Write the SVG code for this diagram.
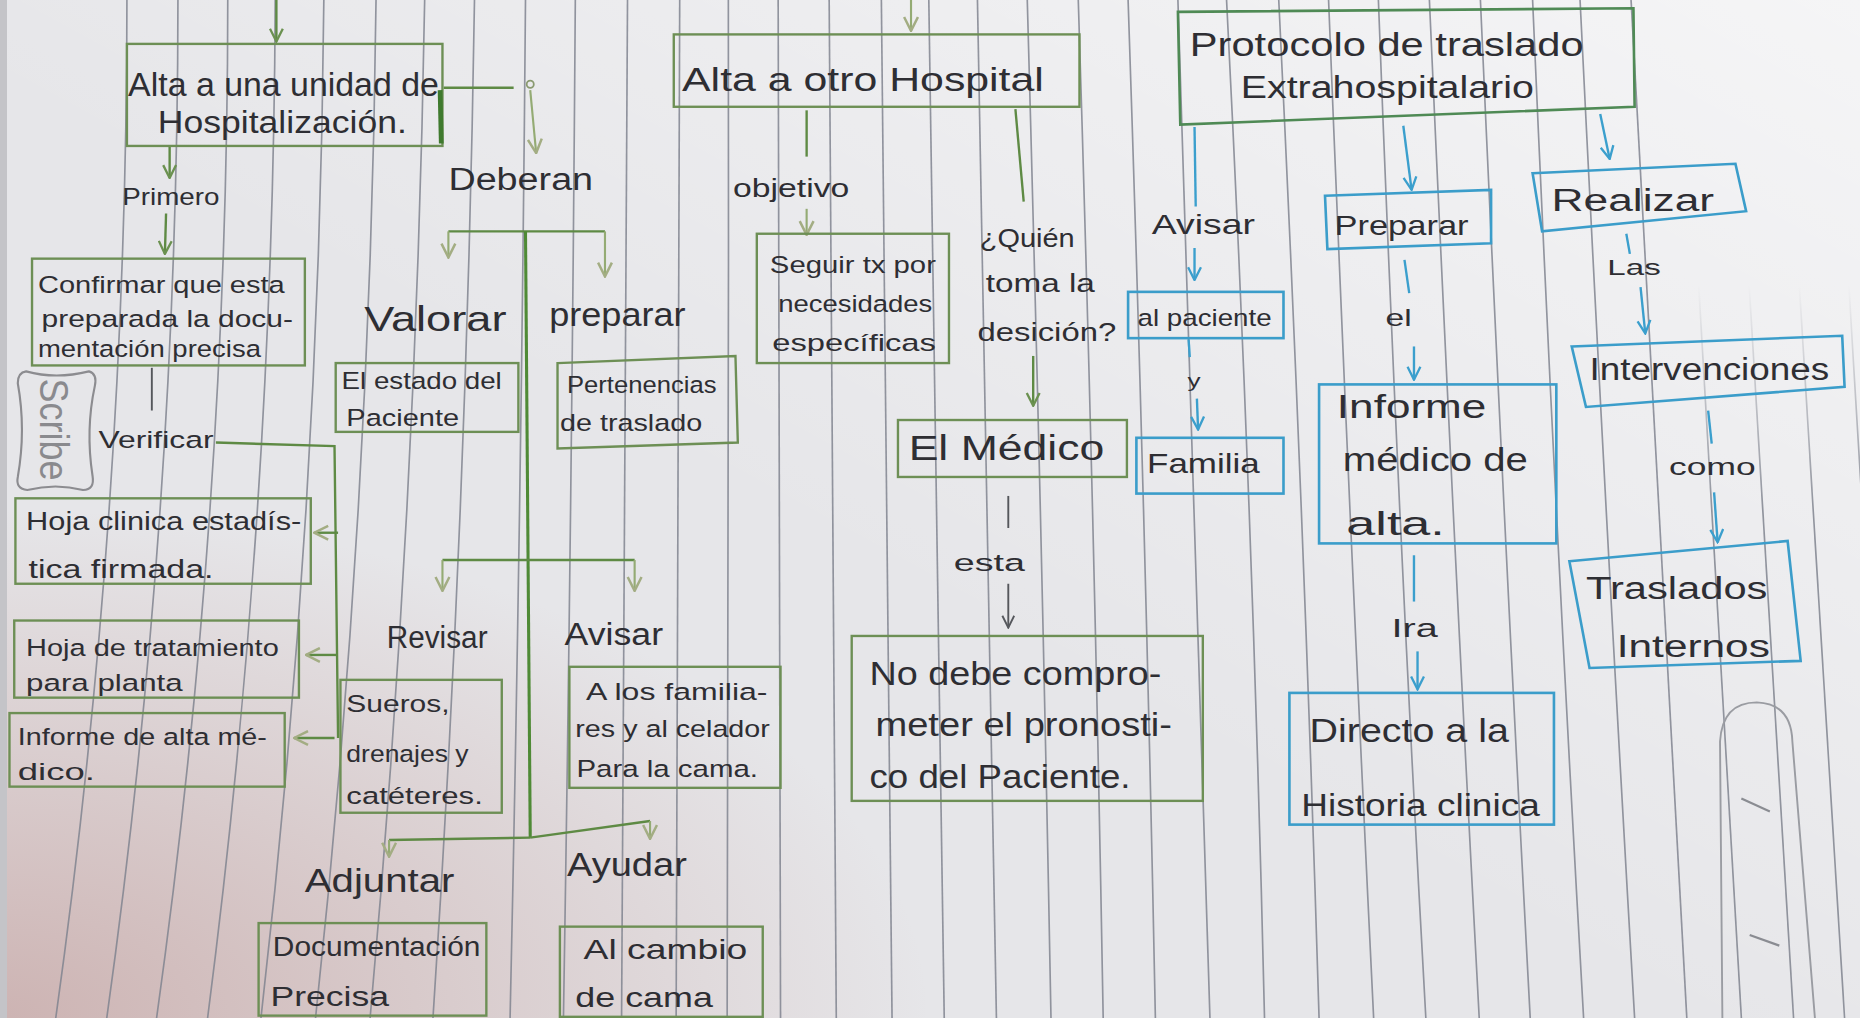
<svg xmlns="http://www.w3.org/2000/svg" width="1860" height="1018" viewBox="0 0 1860 1018">
<defs>
<style>
text{font-family:"Liberation Sans","DejaVu Sans",Arial,sans-serif;fill:#2e2e33}
.rl{fill:none;stroke:#80848f;stroke-width:1.4;opacity:.85}
.rf{fill:none;stroke:url(#fade);stroke-width:1.4}
.bg{fill:none;stroke:#6d8f55;stroke-width:2}
.bb{fill:none;stroke:#3b9dca;stroke-width:2.2}
.cg{fill:none;stroke:#5e8a44;stroke-width:2}
.cl{fill:none;stroke:#94ab74;stroke-width:1.8}
.cb{fill:none;stroke:#3b9fcd;stroke-width:2}
.ck{fill:none;stroke:#55575c;stroke-width:1.6}
</style>
<marker id="mg" viewBox="0 0 12 12" refX="11" refY="6" markerWidth="13" markerHeight="13" markerUnits="userSpaceOnUse" orient="auto"><path d="M1,1 L11,6 L1,11" fill="none" stroke="#6b9150" stroke-width="1.8"/></marker>
<marker id="ml" viewBox="0 0 12 12" refX="11" refY="6" markerWidth="14" markerHeight="14" markerUnits="userSpaceOnUse" orient="auto"><path d="M1,1 L11,6 L1,11" fill="none" stroke="#a3ad83" stroke-width="1.8"/></marker>
<marker id="mb" viewBox="0 0 12 12" refX="11" refY="6" markerWidth="13" markerHeight="13" markerUnits="userSpaceOnUse" orient="auto"><path d="M1,1 L11,6 L1,11" fill="none" stroke="#3b9fcd" stroke-width="1.8"/></marker>
<marker id="mk" viewBox="0 0 12 12" refX="11" refY="6" markerWidth="12" markerHeight="12" markerUnits="userSpaceOnUse" orient="auto"><path d="M1,1 L11,6 L1,11" fill="none" stroke="#55575c" stroke-width="1.6"/></marker>
<linearGradient id="lt" x1="1" y1="0" x2="0" y2="1"><stop offset="0" stop-color="#ffffff" stop-opacity=".6"/><stop offset=".55" stop-color="#ffffff" stop-opacity="0"/></linearGradient>
<radialGradient id="pk" cx="0" cy="1" r=".5"><stop offset="0" stop-color="#b88a86" stop-opacity=".55"/><stop offset="1" stop-color="#b88a86" stop-opacity="0"/></radialGradient>
<linearGradient id="fade" gradientUnits="userSpaceOnUse" x1="0" y1="0" x2="0" y2="858"><stop offset="0" stop-color="#80848f" stop-opacity="0"/><stop offset=".28" stop-color="#80848f" stop-opacity="0"/><stop offset=".5" stop-color="#80848f" stop-opacity=".85"/></linearGradient>
</defs>
<rect width="1860" height="1018" fill="#e6e6e9"/>
<rect width="1860" height="1018" fill="url(#lt)"/>
<rect width="1860" height="1018" fill="url(#pk)"/>
<rect x="0" y="0" width="7" height="1018" fill="#c4c4c8"/>
<g transform="scale(1.18622,1.18648)">
<g id="paper">
<path class="rl" d="M107 0 Q107 429 47 858"/>
<path class="rl" d="M150 0 Q150 429 90 858"/>
<path class="rl" d="M192 0 Q192 429 132 858"/>
<path class="rl" d="M232 0 Q230.5 429 175 858"/>
<path class="rl" d="M273 0 Q269.5 429 220 858"/>
<path class="rl" d="M317 0 Q312.5 429 266 858"/>
<path class="rl" d="M358 0 Q351 429 312 858"/>
<path class="rl" d="M400 0 Q393.5 429 365 858"/>
<path class="rl" d="M443 0 Q439.5 429 430 858"/>
<path class="rl" d="M485 0 Q482 429 475 858"/>
<path class="rl" d="M529 0 Q527.5 429 524 858"/>
<path class="rl" d="M573 0 Q572.5 429 570 858"/>
<path class="rl" d="M614 0 Q614.5 429 613 858"/>
<path class="rl" d="M656 0 Q657 429 658 858"/>
<path class="rl" d="M699 0 Q702 429 705 858"/>
<path class="rl" d="M743 0 Q746.5 429 752 858"/>
<path class="rl" d="M783 0 Q788.5 429 796 858"/>
<path class="rl" d="M824 0 Q832 429 840 858"/>
<path class="rl" d="M866 0 Q878 429 886 858"/>
<path class="rl" d="M909 0 Q922.5 429 930 858"/>
<path class="rl" d="M951 0 Q965.5 429 974 858"/>
<path class="rl" d="M993 0 Q1007.5 429 1020 858"/>
<path class="rl" d="M1034 0 Q1056 429 1066 858"/>
<path class="rl" d="M1078 0 Q1099 429 1112 858"/>
<path class="rl" d="M1120 0 Q1137 429 1158 858"/>
<path class="rl" d="M1162 0 Q1178 429 1202 858"/>
<path class="rl" d="M1205 0 Q1224 429 1247 858"/>
<path class="rl" d="M1248 0 Q1267 429 1290 858"/>
<path class="rl" d="M1292 0 Q1310.5 429 1335 858"/>
<path class="rl" d="M1332 0 Q1353 429 1378 858"/>
<path class="rl" d="M1375 0 Q1397.5 429 1422 858"/>
<path class="rf" d="M1418 0 Q1443 429 1468 858"/>
<path class="rf" d="M1460 0 Q1486 429 1512 858"/>
<path class="rf" d="M1502 0 Q1527.5 429 1555 858"/>
<path class="rf" d="M1545 0 Q1568.5 429 1598 858"/>
</g>

<g id="connectors">
<path class="cg" d="M233,0 L233,35" marker-end="url(#mg)"/>
<path class="cg" d="M374,74 L433,74"/>
<circle cx="447" cy="71" r="3" fill="none" stroke="#8a9a70" stroke-width="1.5"/>
<path class="cl" d="M447,76 L452,129" marker-end="url(#ml)"/>
<text x="378" y="160" font-size="26" textLength="122" lengthAdjust="spacingAndGlyphs">Deberan</text>
<path class="cg" d="M143,123 L143,150" marker-end="url(#mg)"/>
<text x="103" y="173" font-size="20" textLength="82" lengthAdjust="spacingAndGlyphs">Primero</text>
<path class="cg" d="M140,180 L139,214" marker-end="url(#mg)"/>
<path class="ck" d="M128,310 L128,346"/>
<text x="83" y="378" font-size="20" textLength="97" lengthAdjust="spacingAndGlyphs">Verificar</text>
<path class="cg" d="M182,373 L282,376 L285,622"/>
<path class="cg" d="M285,449 L265,449" marker-end="url(#ml)"/>
<path class="cg" d="M284,552 L258,552" marker-end="url(#ml)"/>
<path class="cg" d="M282,622 L248,622" marker-end="url(#ml)"/>
<path class="cg" d="M378,195 L510,195"/>
<path class="cl" d="M378,195 L378,217" marker-end="url(#ml)"/>
<path class="cl" d="M510,195 L510,233" marker-end="url(#ml)"/>
<path d="M443,195 L447,706" fill="none" stroke="#4f8a36" stroke-width="2.6"/>
<path class="cg" d="M373,472 L535,472"/>
<path class="cl" d="M373,472 L373,498" marker-end="url(#ml)"/>
<path class="cl" d="M535,472 L535,498" marker-end="url(#ml)"/>
<path class="cg" d="M447,706 L328,708"/>
<path class="cl" d="M328,708 L328,722" marker-end="url(#ml)"/>
<path class="cg" d="M447,706 L548,692"/>
<path class="cl" d="M548,692 L548,707" marker-end="url(#ml)"/>
<path class="cl" d="M768,0 L768,26" marker-end="url(#ml)"/>
<path class="cg" d="M680,93 L680,132"/>
<text x="618" y="166" font-size="22" textLength="98" lengthAdjust="spacingAndGlyphs">objetivo</text>
<path class="cl" d="M680,176 L680,198" marker-end="url(#ml)"/>
<path class="cg" d="M856,92 L863,170"/>
<path class="cg" d="M871,300 L871,342" marker-end="url(#mg)"/>
<path class="ck" d="M850,418 L850,445"/>
<text x="804" y="481" font-size="20" textLength="60" lengthAdjust="spacingAndGlyphs">esta</text>
<path class="ck" d="M850,492 L850,529" marker-end="url(#mk)"/>
<path class="cb" d="M1007,107 L1008,174"/>
<path class="cb" d="M1007,209 L1007,236" marker-end="url(#mb)"/>
<path class="cb" d="M1002,286 L1003,301"/>
<text x="1001" y="326" font-size="16" textLength="11" lengthAdjust="spacingAndGlyphs">y</text>
<path class="cb" d="M1009,336 L1010,362" marker-end="url(#mb)"/>
<path class="cb" d="M1183,106 L1190,160" marker-end="url(#mb)"/>
<path class="cb" d="M1184,219 L1188,247"/>
<text x="1168" y="275" font-size="20" textLength="22" lengthAdjust="spacingAndGlyphs">el</text>
<path class="cb" d="M1192,292 L1192,320" marker-end="url(#mb)"/>
<path class="cb" d="M1192,468 L1192,507"/>
<text x="1173" y="537" font-size="22" textLength="39" lengthAdjust="spacingAndGlyphs">Ira</text>
<path class="cb" d="M1195,549 L1195,581" marker-end="url(#mb)"/>
<path class="cb" d="M1349,96 L1357,134" marker-end="url(#mb)"/>
<path class="cb" d="M1371,197 L1374,214"/>
<text x="1355" y="232" font-size="18" textLength="45" lengthAdjust="spacingAndGlyphs">Las</text>
<path class="cb" d="M1383,242 L1387,281" marker-end="url(#mb)"/>
<path class="cb" d="M1440,346 L1443,374"/>
<text x="1407" y="400" font-size="20" textLength="73" lengthAdjust="spacingAndGlyphs">como</text>
<path class="cb" d="M1445,415 L1448,457" marker-end="url(#mb)"/>
</g>

<g id="n-alta-unidad">
<rect class="bg" x="107" y="37" width="266" height="86"/>
<path d="M371,76 L372,121" stroke="#3f7a2e" stroke-width="4"/>
<text x="108" y="81" font-size="28" textLength="262" lengthAdjust="spacingAndGlyphs">Alta a una unidad de</text>
<text x="133" y="112" font-size="26" textLength="210" lengthAdjust="spacingAndGlyphs">Hospitalización.</text>
</g>
<g id="n-confirmar">
<rect class="bg" x="27" y="218" width="230" height="90"/>
<text x="32" y="247" font-size="20" textLength="208" lengthAdjust="spacingAndGlyphs">Confirmar que esta</text>
<text x="35" y="276" font-size="20" textLength="212" lengthAdjust="spacingAndGlyphs">preparada la docu-</text>
<text x="32" y="301" font-size="20" textLength="188" lengthAdjust="spacingAndGlyphs">mentación precisa</text>
</g>
<g id="n-scribe">
<path d="M22,313 Q47,320 75,313 Q82,315 80,325 Q72,362 78,401 Q80,413 70,413 Q47,407 23,413 Q13,412 15,402 Q22,362 15,323 Q15,314 22,313 Z" fill="none" stroke="#8c8c90" stroke-width="1.8"/>
<text transform="translate(34,362) rotate(90)" text-anchor="middle" font-size="34" textLength="86" lengthAdjust="spacingAndGlyphs" style="fill:#8a8a8e">Scribe</text>
</g>
<g id="n-hoja-clinica">
<rect class="bg" x="13" y="420" width="249" height="72"/>
<text x="22" y="447" font-size="22" textLength="232" lengthAdjust="spacingAndGlyphs">Hoja clinica estadís-</text>
<text x="24" y="487" font-size="22" textLength="156" lengthAdjust="spacingAndGlyphs">tica firmada.</text>
</g>
<g id="n-hoja-tratamiento">
<rect class="bg" x="12" y="523" width="240" height="65"/>
<text x="22" y="553" font-size="20" textLength="213" lengthAdjust="spacingAndGlyphs">Hoja de tratamiento</text>
<text x="22" y="582" font-size="20" textLength="132" lengthAdjust="spacingAndGlyphs">para planta</text>
</g>
<g id="n-informe-alta-medico">
<rect class="bg" x="8" y="601" width="232" height="62"/>
<text x="15" y="628" font-size="20" textLength="210" lengthAdjust="spacingAndGlyphs">Informe de alta mé-</text>
<text x="15" y="657" font-size="20" textLength="65" lengthAdjust="spacingAndGlyphs">dico.</text>
</g>
<g id="n-valorar">
<text x="307" y="279" font-size="30" textLength="120" lengthAdjust="spacingAndGlyphs">Valorar</text>
</g>
<g id="n-preparar-mid">
<text x="463" y="275" font-size="28" textLength="115" lengthAdjust="spacingAndGlyphs">preparar</text>
</g>
<g id="n-estado">
<rect class="bg" x="283" y="306" width="154" height="58"/>
<text x="288" y="328" font-size="20" textLength="135" lengthAdjust="spacingAndGlyphs">El estado del</text>
<text x="292" y="359" font-size="20" textLength="95" lengthAdjust="spacingAndGlyphs">Paciente</text>
</g>
<g id="n-pertenencias">
<polygon class="bg" points="470,306 620,300 622,373 470,378"/>
<text x="478" y="331" font-size="20" textLength="126" lengthAdjust="spacingAndGlyphs">Pertenencias</text>
<text x="472" y="363" font-size="20" textLength="120" lengthAdjust="spacingAndGlyphs">de traslado</text>
</g>
<g id="n-revisar">
<text x="326" y="546" font-size="26" textLength="85" lengthAdjust="spacingAndGlyphs">Revisar</text>
</g>
<g id="n-avisar-mid">
<text x="476" y="544" font-size="26" textLength="83" lengthAdjust="spacingAndGlyphs">Avisar</text>
</g>
<g id="n-sueros">
<rect class="bg" x="287" y="573" width="136" height="112"/>
<text x="292" y="600" font-size="20" textLength="87" lengthAdjust="spacingAndGlyphs">Sueros,</text>
<text x="292" y="642" font-size="20" textLength="103" lengthAdjust="spacingAndGlyphs">drenajes y</text>
<text x="292" y="678" font-size="20" textLength="115" lengthAdjust="spacingAndGlyphs">catéteres.</text>
</g>
<g id="n-familiares">
<rect class="bg" x="480" y="562" width="178" height="102"/>
<text x="494" y="590" font-size="20" textLength="153" lengthAdjust="spacingAndGlyphs">A los familia-</text>
<text x="485" y="621" font-size="20" textLength="164" lengthAdjust="spacingAndGlyphs">res y al celador</text>
<text x="486" y="655" font-size="20" textLength="153" lengthAdjust="spacingAndGlyphs">Para la cama.</text>
</g>
<g id="n-adjuntar">
<text x="257" y="752" font-size="28" textLength="126" lengthAdjust="spacingAndGlyphs">Adjuntar</text>
</g>
<g id="n-ayudar">
<text x="478" y="738" font-size="28" textLength="101" lengthAdjust="spacingAndGlyphs">Ayudar</text>
</g>
<g id="n-documentacion">
<rect class="bg" x="218" y="778" width="192" height="78"/>
<text x="230" y="806" font-size="24" textLength="175" lengthAdjust="spacingAndGlyphs">Documentación</text>
<text x="228" y="848" font-size="24" textLength="100" lengthAdjust="spacingAndGlyphs">Precisa</text>
</g>
<g id="n-cambio-cama">
<rect class="bg" x="472" y="781" width="171" height="76"/>
<text x="492" y="808" font-size="24" textLength="138" lengthAdjust="spacingAndGlyphs">Al cambio</text>
<text x="485" y="849" font-size="24" textLength="116" lengthAdjust="spacingAndGlyphs">de cama</text>
</g>
<g id="n-alta-otro-hospital">
<rect class="bg" x="568" y="29" width="342" height="61"/>
<text x="575" y="77" font-size="28" textLength="305" lengthAdjust="spacingAndGlyphs">Alta a otro Hospital</text>
</g>
<g id="n-seguir">
<rect class="bg" x="638" y="197" width="162" height="109"/>
<text x="649" y="230" font-size="20" textLength="140" lengthAdjust="spacingAndGlyphs">Seguir tx por</text>
<text x="656" y="263" font-size="20" textLength="130" lengthAdjust="spacingAndGlyphs">necesidades</text>
<text x="651" y="296" font-size="20" textLength="138" lengthAdjust="spacingAndGlyphs">específicas</text>
</g>
<g id="n-quien">
<text x="826" y="208" font-size="22" textLength="80" lengthAdjust="spacingAndGlyphs">¿Quién</text>
<text x="831" y="246" font-size="22" textLength="92" lengthAdjust="spacingAndGlyphs">toma la</text>
<text x="824" y="287" font-size="22" textLength="117" lengthAdjust="spacingAndGlyphs">desición?</text>
</g>
<g id="n-medico">
<rect class="bg" x="757" y="354" width="193" height="48"/>
<text x="766" y="388" font-size="30" textLength="165" lengthAdjust="spacingAndGlyphs">El Médico</text>
</g>
<g id="n-no-debe">
<rect class="bg" x="718" y="536" width="296" height="139"/>
<text x="733" y="577" font-size="28" textLength="246" lengthAdjust="spacingAndGlyphs">No debe compro-</text>
<text x="738" y="620" font-size="28" textLength="250" lengthAdjust="spacingAndGlyphs">meter el pronosti-</text>
<text x="733" y="664" font-size="28" textLength="220" lengthAdjust="spacingAndGlyphs">co del Paciente.</text>
</g>
<g id="n-protocolo">
<polygon points="993,10 1377,7 1378,90 995,105" fill="none" stroke="#4f8a55" stroke-width="2.2"/>
<text x="1003" y="47" font-size="28" textLength="332" lengthAdjust="spacingAndGlyphs">Protocolo de traslado</text>
<text x="1046" y="83" font-size="26" textLength="247" lengthAdjust="spacingAndGlyphs">Extrahospitalario</text>
</g>
<g id="n-avisar-right">
<text x="971" y="197" font-size="24" textLength="87" lengthAdjust="spacingAndGlyphs">Avisar</text>
</g>
<g id="n-al-paciente">
<rect class="bb" x="951" y="246" width="131" height="39"/>
<text x="959" y="275" font-size="20" textLength="113" lengthAdjust="spacingAndGlyphs">al paciente</text>
</g>
<g id="n-familia">
<rect class="bb" x="958" y="369" width="124" height="47"/>
<text x="967" y="399" font-size="24" textLength="95" lengthAdjust="spacingAndGlyphs">Familia</text>
</g>
<g id="n-preparar-right">
<polygon class="bb" points="1117,165 1257,160 1257,205 1119,210"/>
<text x="1125" y="198" font-size="24" textLength="113" lengthAdjust="spacingAndGlyphs">Preparar</text>
</g>
<g id="n-informe-medico">
<rect class="bb" x="1112" y="324" width="200" height="134"/>
<text x="1127" y="352" font-size="28" textLength="126" lengthAdjust="spacingAndGlyphs">Informe</text>
<text x="1132" y="397" font-size="28" textLength="156" lengthAdjust="spacingAndGlyphs">médico de</text>
<text x="1135" y="451" font-size="28" textLength="83" lengthAdjust="spacingAndGlyphs">alta.</text>
</g>
<g id="n-directo">
<rect class="bb" x="1087" y="584" width="223" height="111"/>
<text x="1104" y="625" font-size="28" textLength="168" lengthAdjust="spacingAndGlyphs">Directo a la</text>
<text x="1097" y="688" font-size="26" textLength="201" lengthAdjust="spacingAndGlyphs">Historia clinica</text>
</g>
<g id="n-realizar">
<polygon class="bb" points="1292,146 1463,138 1472,178 1300,195"/>
<text x="1308" y="178" font-size="26" textLength="137" lengthAdjust="spacingAndGlyphs">Realizar</text>
</g>
<g id="n-intervenciones">
<polygon class="bb" points="1325,292 1553,283 1555,326 1337,343"/>
<text x="1340" y="320" font-size="26" textLength="202" lengthAdjust="spacingAndGlyphs">Intervenciones</text>
</g>
<g id="n-traslados">
<polygon class="bb" points="1323,473 1507,456 1518,557 1340,563"/>
<text x="1337" y="505" font-size="26" textLength="153" lengthAdjust="spacingAndGlyphs">Traslados</text>
<text x="1363" y="554" font-size="26" textLength="129" lengthAdjust="spacingAndGlyphs">Internos</text>
</g>
<g id="sketch-arch">
<path d="M1452,858 L1450,625 Q1452,592 1481,592 Q1510,593 1511,625 L1530,858" fill="none" stroke="#9a9ca2" stroke-width="1.6"/>
<path d="M1468,673 L1492,684" stroke="#8a8c92" stroke-width="1.8"/>
<path d="M1475,788 L1500,797" stroke="#8a8c92" stroke-width="1.8"/>
</g>
</g>
</svg>
